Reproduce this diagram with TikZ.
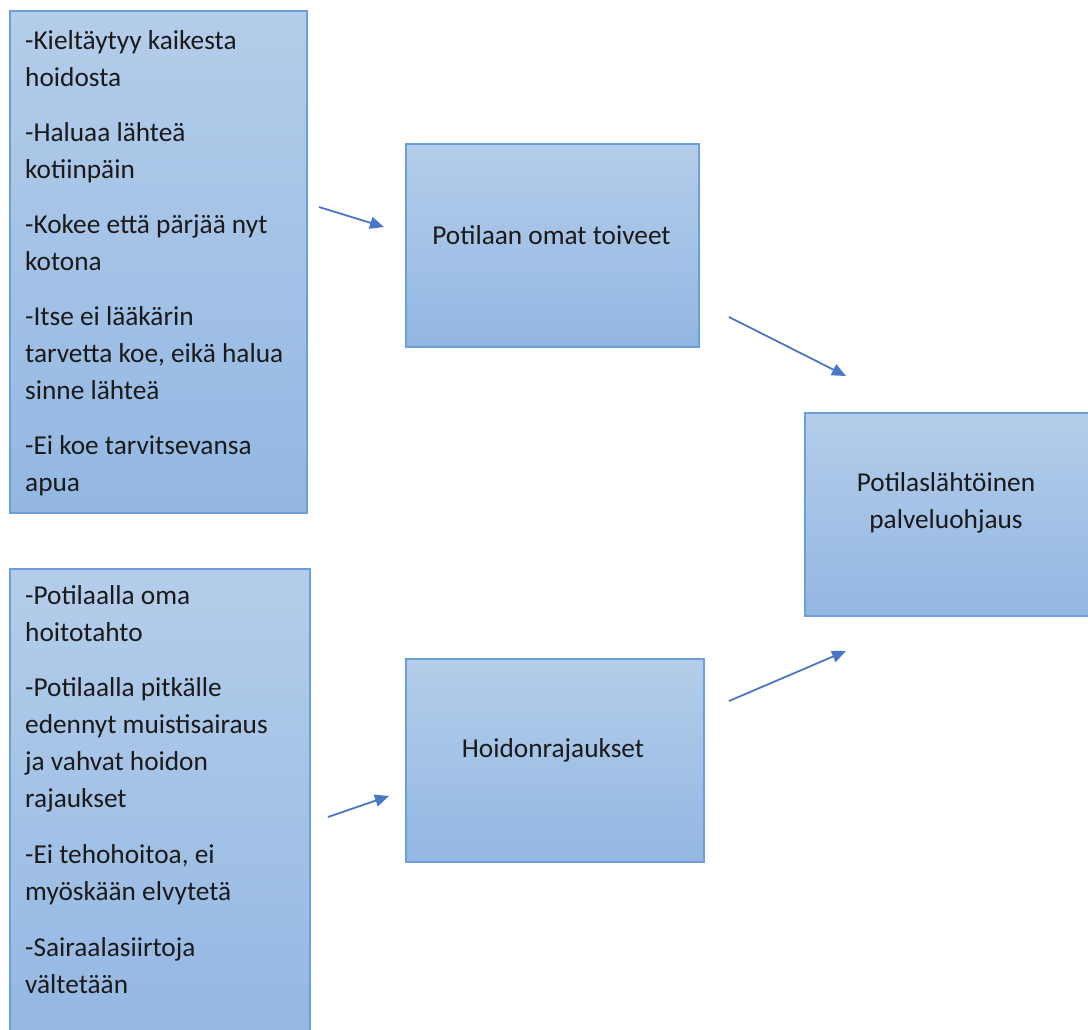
\documentclass[tikz,border=0pt]{standalone}
\usepackage{fontspec}
\setmainfont{Carlito}
\usetikzlibrary{arrows.meta}
\definecolor{boxtop}{HTML}{B4CDEA}
\definecolor{boxbot}{HTML}{93B7E2}
\definecolor{boxline}{HTML}{6C9FD9}
\definecolor{arrowblue}{HTML}{4A76C8}
\definecolor{ink}{HTML}{1A1A1A}
\tikzset{
  panel/.style={draw=boxline, line width=1.6pt, top color=boxtop, bottom color=boxbot,
    anchor=north west, inner sep=0pt, minimum width=#1},
  panel/.default=290pt,
  label/.style={text=ink, font=\fontsize{27.3}{37}\selectfont, inner sep=0pt},
  listtext/.style={label, align=left, anchor=base west},
  flow/.style={draw=arrowblue, line width=1.8pt, -{Triangle[length=14pt,width=12pt]}}
}
\begin{document}
\begin{tikzpicture}[x=1pt,y=-1pt]
  \useasboundingbox (0,0) rectangle (1088,1030);
  \clip (0,0) rectangle (1088,1030);

  % boxes
  \node[panel=297pt, minimum height=502pt] (A) at (9,10) {};
  \node[panel=300pt, minimum height=480pt] (B) at (9,568) {};
  \node[panel=293pt, minimum height=203pt] (C) at (405,143) {};
  \node[panel=298pt, minimum height=203pt] (D) at (405,658) {};
  \node[panel=300pt, minimum height=203pt] (E) at (804,412) {};

  % left-hand lists (placed by the baseline of their last line)
  \node[listtext] (tA) at (25,491) {-Kieltäytyy kaikesta\\hoidosta\\[18pt]
    -Haluaa lähteä\\kotiinpäin\\[18pt]
    -Kokee että pärjää nyt\\kotona\\[18pt]
    -Itse ei lääkärin\\tarvetta koe, eikä halua\\sinne lähteä\\[18pt]
    -Ei koe tarvitsevansa\\apua};
  \node[listtext] (tB) at (25,993) {-Potilaalla oma\\hoitotahto\\[18pt]
    -Potilaalla pitkälle\\edennyt muistisairaus\\ja vahvat hoidon\\rajaukset\\[19pt]
    -Ei tehohoitoa, ei\\myöskään elvytetä\\[19pt]
    -Sairaalasiirtoja\\vältetään};

  % box titles
  \node[label] (tC) at (551.5,235) {Potilaan omat toiveet};
  \node[label] (tD) at (553,750) {Hoidonrajaukset};
  \node[label, align=center] (tE) at (946,503) {Potilaslähtöinen\\palveluohjaus};

  % connector end points
  \coordinate (a1s) at (319,207);  \coordinate (a1e) at (384,227);
  \coordinate (a2s) at (729,317);  \coordinate (a2e) at (846,376);
  \coordinate (a3s) at (328,817);  \coordinate (a3e) at (389,796);
  \coordinate (a4s) at (729,701);  \coordinate (a4e) at (846,651);

  \draw[flow] (a1s) -- (a1e);
  \draw[flow] (a2s) -- (a2e);
  \draw[flow] (a3s) -- (a3e);
  \draw[flow] (a4s) -- (a4e);
\end{tikzpicture}
\end{document}
